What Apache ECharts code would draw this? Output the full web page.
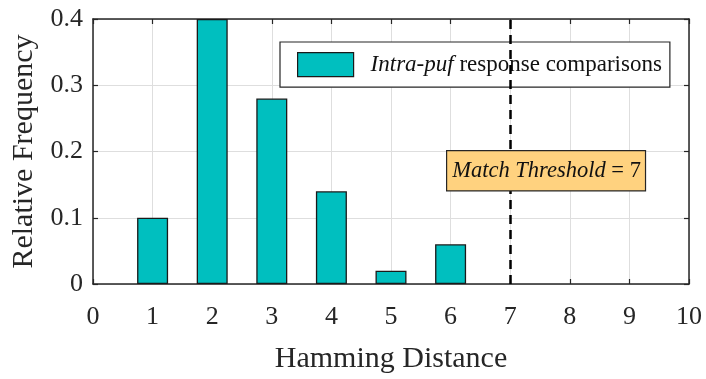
<!DOCTYPE html>
<html><head><meta charset="utf-8">
<script src="https://cdn.jsdelivr.net/npm/echarts@6/dist/echarts.min.js"></script>
<style>html,body{margin:0;padding:0;background:#fff}#c{width:706px;height:379px}</style>
</head><body><div id="c"></div>
<script>
const distances = [1, 2, 3, 4, 5, 6];
const frequencies = [0.10, 0.40, 0.28, 0.14, 0.02, 0.06];
const xTicks = [0,1,2,3,4,5,6,7,8,9,10];
const yTicks = [0, 0.1, 0.2, 0.3, 0.4];
const threshold = 7;
const F = '"Liberation Serif", "Times New Roman", serif';
const TXT = '#262626';

const chart = echarts.init(document.getElementById('c'), null, {renderer:'canvas'});
const axisCommon = {
  axisLine:{show:true, onZero:false, lineStyle:{color:TXT, width:1.5}},
  axisTick:{show:true, inside:true, length:5, lineStyle:{color:TXT, width:1.2}},
  splitLine:{show:true, lineStyle:{color:'#dedede', width:1}}
};
const boxAxis = {
  axisLine:{show:true, onZero:false, lineStyle:{color:TXT, width:1.5}},
  axisTick:{show:true, inside:true, length:5, lineStyle:{color:TXT, width:1.2}},
  axisLabel:{show:false}, splitLine:{show:false}
};
chart.setOption({
  animation:false,
  grid:{left:93, right:17, top:19, bottom:94, containLabel:false},
  xAxis:[{
    type:'value', min:0, max:10, interval:1, ...axisCommon,
    axisLabel:{color:TXT, fontFamily:F, fontSize:26, margin:20, formatter:v=>String(v)},
    name:'Hamming Distance', nameLocation:'middle', nameGap:60,
    nameTextStyle:{color:TXT, fontFamily:F, fontSize:30}
  },{
    type:'value', min:0, max:10, interval:1, position:'top', ...boxAxis
  }],
  yAxis:[{
    type:'value', min:0, max:0.4, interval:0.1, ...axisCommon,
    axisLabel:{color:TXT, fontFamily:F, fontSize:26, margin:10, formatter:v=>v===0?'0':v.toFixed(1)},
    name:'Relative Frequency', nameLocation:'middle', nameGap:54,
    nameTextStyle:{color:TXT, fontFamily:F, fontSize:30}
  },{
    type:'value', min:0, max:0.4, interval:0.1, position:'right', ...boxAxis
  }],
  legend:{
    show:true, left:280, top:42,
    padding:[10,8,10,17], itemWidth:56, itemHeight:24,
    backgroundColor:'#fff', borderColor:TXT, borderWidth:1.2,
    data:[{name:'Intra-puf response comparisons', icon:'rect', itemStyle:{borderColor:'#1a1a1a', borderWidth:1.2}}],
    formatter:()=>'{i|Intra-puf }{n|response comparisons}',
    textStyle:{rich:{
      i:{fontFamily:F, fontStyle:'italic', fontSize:23, color:'#111', padding:[0,0,0,12]},
      n:{fontFamily:F, fontSize:23, color:'#111'}
    }}
  },
  series:[{
    name:'Intra-puf response comparisons', type:'bar', barWidth:31,
    data: distances.map((d,i)=>[d, frequencies[i]]),
    itemStyle:{color:'#00BFBF', borderColor:'#1a1a1a', borderWidth:1.3},
    z:3,
    markLine:{
      silent:true, symbol:'none', label:{show:false},
      lineStyle:{color:'#000', type:[9,6], width:2.5},
      data:[{xAxis:threshold}]
    }
  }],
  graphic:[{
    type:'text', left:446, top:150, z:10,
    style:{
      text:'{i|Match Threshold }{n|= 7}',
      rich:{
        i:{fontFamily:F, fontStyle:'italic', fontSize:22.5, fill:'#111'},
        n:{fontFamily:F, fontSize:22.5, fill:'#111'}
      },
      backgroundColor:'#FFD27F', borderColor:TXT, borderWidth:1.2,
      padding:[8,4,8,5]
    }
  }]
});
</script></body></html>
